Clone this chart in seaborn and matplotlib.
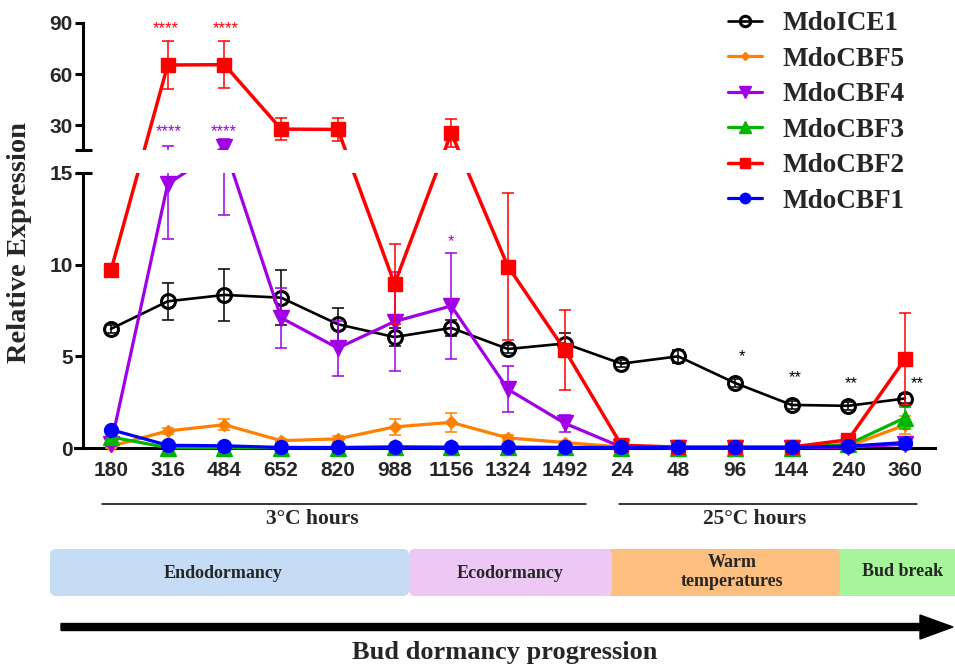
import numpy as np
import pandas as pd
import matplotlib
matplotlib.use('Agg')
import matplotlib.pyplot as plt
import seaborn as sns
from matplotlib.lines import Line2D
from matplotlib.patches import FancyBboxPatch, FancyArrow, Rectangle
from matplotlib.transforms import blended_transform_factory

# ---------------- data ----------------
hours = ['180', '316', '484', '652', '820', '988', '1156', '1324', '1492',
         '24', '48', '96', '144', '240', '360']

ice1 = [6.5, 8.0, 8.35, 8.2, 6.75, 6.05, 6.55, 5.4, 5.7, 4.6, 5.0, 3.55, 2.35, 2.3, 2.7]
ice1_err = [0.2, 1.0, 1.4, 1.5, 0.9, 0.5, 0.45, 0.2, 0.55, 0.2, 0.35, 0.2, 0.2, 0.2, 0.25]

cbf5 = [0.1, 0.93, 1.27, 0.4, 0.5, 1.15, 1.4, 0.55, 0.3, 0.05, 0.03, 0.03, 0.03, 0.1, 1.25]
cbf5_err = [0.1, 0.15, 0.3, 0.1, 0.15, 0.45, 0.5, 0.15, 0.1, 0.02, 0.02, 0.02, 0.02, 0.05, 0.5]

cbf4 = [0.2, 14.4, 17.2, 7.1, 5.45, 6.9, 7.75, 3.2, 1.35, 0.05, 0.02, 0.02, 0.02, 0.05, 0.2]
cbf4_err = [0.1, 3.0, 4.5, 1.65, 1.5, 2.7, 2.9, 1.25, 0.45, 0.02, 0.01, 0.01, 0.01, 0.03, 0.1]

cbf3 = [0.6, 0.02, 0.02, 0.02, 0.02, 0.08, 0.05, 0.05, 0.03, 0.02, 0.02, 0.02, 0.02, 0.2, 1.65]
cbf3_err = [0.15, 0.01, 0.01, 0.01, 0.01, 0.03, 0.02, 0.02, 0.01, 0.01, 0.01, 0.01, 0.01, 0.05, 0.6]

cbf2 = [9.7, 65.3, 65.5, 27.6, 27.4, 8.95, 25.3, 9.9, 5.35, 0.15, 0.05, 0.05, 0.05, 0.45, 4.85]
cbf2_err = [0.2, 14.0, 14.0, 6.7, 7.0, 2.2, 8.5, 4.0, 2.2, 0.05, 0.02, 0.02, 0.02, 0.1, 2.5]

cbf1 = [1.0, 0.15, 0.12, 0.03, 0.03, 0.03, 0.03, 0.03, 0.03, 0.03, 0.03, 0.03, 0.03, 0.1, 0.3]
cbf1_err = [0.1, 0.03, 0.03, 0.01, 0.01, 0.01, 0.01, 0.01, 0.01, 0.01, 0.01, 0.01, 0.01, 0.03, 0.1]

gene_names = ['MdoICE1', 'MdoCBF5', 'MdoCBF4', 'MdoCBF3', 'MdoCBF2', 'MdoCBF1']

# significance marks: (x position index, y value, text, color)
sig_x = [0.97, 2.03, 1.02, 1.99, 6.0, 11.13, 12.06, 13.05, 14.21]
sig_y = [84.0, 84.0, 23.5, 23.5, 11.0, 4.75, 3.6, 3.27, 3.27]
sig_txt = ['****', '****', '****', '****', '*', '*', '**', '**', '**']
sig_col = ['#ff0000', '#ff0000', '#a100e6', '#a100e6', '#a100e6',
           'black', 'black', 'black', 'black']

# ---------------- style ----------------
sns.set_theme(style='white')
plt.rcParams['font.family'] = ['Liberation Serif', 'DejaVu Serif']
SANS = ['Liberation Sans', 'DejaVu Sans']
SERIF = ['Liberation Serif', 'DejaVu Serif']

W, H = 955, 668
fig = plt.figure(figsize=(W / 100, H / 100), dpi=100)
fig.patch.set_facecolor('white')

AX_L, AX_R, AX_T, AX_B = 75, 935, 23, 448
ax = fig.add_axes([AX_L / W, 1 - AX_B / H, (AX_R - AX_L) / W, (AX_B - AX_T) / H])
ax.set_facecolor('none')

# broken (piecewise-linear) y scale
V = np.array([-1000., 0., 15., 15.3, 90., 1000.])
P = np.array([-18333., 0., 275., 298., 425., 425. + 910 * 1.7])


def fwd(v):
    return np.interp(np.asarray(v, dtype=float), V, P)


def inv(p):
    return np.interp(np.asarray(p, dtype=float), P, V)


ax.set_yscale('function', functions=(fwd, inv))

xpos = np.arange(len(hours))
x0 = 111.0
step = (905.0 - 111.0) / 14
ax.set_xlim((AX_L - x0) / step, (AX_R - x0) / step)
ax.set_ylim(0, 90)

series = [
    (ice1, ice1_err, 'black', 'o', 10, 'none', 1.9, 2.2),
    (cbf5, cbf5_err, '#ff8000', 'D', 6, None, 2.3, 1),
    (cbf4, cbf4_err, '#a100e6', 'v', 11, None, 2.3, 1),
    (cbf3, cbf3_err, '#00b400', '^', 11, None, 2.3, 1),
    (cbf2, cbf2_err, '#ff0000', 's', 10.5, None, 2.5, 1),
    (cbf1, cbf1_err, '#0000ff', 'o', 10, None, 2.3, 1),
]

handles = []
for i, (vals, err, col, mk, ms, mfc, lw, mew) in enumerate(series):
    z = 3 + i
    ax.errorbar(xpos, vals, yerr=err, fmt='none', ecolor=col, elinewidth=1.1,
                capsize=4, capthick=1.1, zorder=z, clip_on=False)
    df = pd.DataFrame({'pos': xpos, 'expr': vals})
    sns.lineplot(data=df, x='pos', y='expr', ax=ax, color=col, linewidth=lw,
                 marker=mk, markersize=ms,
                 markerfacecolor=(mfc if mfc else col), markeredgecolor=col,
                 markeredgewidth=mew, estimator=None, errorbar=None,
                 zorder=z + 0.5, clip_on=False, legend=False)
    handles.append(Line2D([], [], color=col, linewidth=lw, marker=mk,
                          markersize=ms * 0.75,
                          markerfacecolor=(mfc if mfc else col),
                          markeredgecolor=col, markeredgewidth=mew))

for sx, sy, st, sc in zip(sig_x, sig_y, sig_txt, sig_col):
    ax.text(sx, sy, st, color=sc, fontsize=12, family=SANS, ha='center',
            va='baseline', zorder=25, clip_on=False)

# axes styling
ax.set_xlabel('')
ax.set_ylabel('')
for s in ('top', 'right'):
    ax.spines[s].set_visible(False)
for s in ('left', 'bottom'):
    ax.spines[s].set_linewidth(2.2)
    ax.spines[s].set_color('black')
ax.spines['left'].set_position(('axes', 8 / (AX_R - AX_L)))

ax.set_xticks(xpos)
ax.set_xticklabels(hours)
ax.set_yticks([0, 5, 10, 15, 30, 60, 90])
ax.set_yticklabels(['0', '5', '10', '15', '30', '60', '90'])
ax.tick_params(axis='y', length=5.5, width=2.2, pad=2, labelsize=15,
               left=True, color='black')
ax.tick_params(axis='x', length=0, pad=9, labelsize=15)
for lbl in ax.get_xticklabels() + ax.get_yticklabels():
    lbl.set_fontfamily(SANS)
    lbl.set_fontweight('bold')
ax.grid(False)

# axis break: hide everything between 15 and 15.3
trans = blended_transform_factory(ax.transAxes, ax.transData)
ax.add_patch(Rectangle((0.0, 15.0), 1.02, 0.3, transform=trans,
                       facecolor='white', edgecolor='none', zorder=20,
                       clip_on=False))
for yv in (15.0, 15.3):
    ax.plot([0, 17 / (AX_R - AX_L)], [yv, yv], transform=trans, color='black',
            lw=2.2, clip_on=False, zorder=21, solid_capstyle='butt')

# y label
fig.text(20 / W, 1 - 243 / H, 'Relative Expression', rotation=90,
         ha='center', va='center', fontsize=20.5, weight='bold', family=SERIF)

# legend
leg = fig.legend(handles, gene_names, loc='upper left',
                 bbox_to_anchor=(728 / W, 1 - 11 / H), frameon=False,
                 prop=dict(family=SERIF, weight='bold', size=19.5),
                 handlelength=1.25, handletextpad=0.75, labelspacing=0.39,
                 borderpad=0, borderaxespad=0)

# ---------------- annotations below the chart ----------------
T = fig.dpi_scale_trans


def pt(px, py):
    return px / 100.0, (H - py) / 100.0


for xa, xb in ((102, 586), (619, 917)):
    fig.add_artist(Line2D([xa / 100, xb / 100], [(H - 504) / 100] * 2,
                          transform=T, color='black', lw=1.1))
fig.text(*pt(312, 519), '3°C hours', transform=T, ha='center', va='center',
         fontsize=15.5, weight='bold', family=SERIF)
fig.text(*pt(755, 519), '25°C hours', transform=T, ha='center', va='center',
         fontsize=15.5, weight='bold', family=SERIF)

boxes = [  # (x0, x1, color)
    (816, 975, '#a6f59b'),
    (606, 840, '#fdbf80'),
    (50, 409, '#c6dcf5'),
    (409, 612, '#edc8f5'),
]
for bx0, bx1, bc in boxes:
    x, y = pt(bx0, 596)
    fig.add_artist(FancyBboxPatch((x, y), (bx1 - bx0) / 100, 0.47,
                                  boxstyle='round,pad=0,rounding_size=0.06',
                                  transform=T, facecolor=bc, edgecolor='none'))

for tx, ty, tt in ((223, 574, 'Endodormancy'), (510, 574, 'Ecodormancy'),
                   (732, 572, 'Warm\ntemperatures'), (903, 572, 'Bud break')):
    fig.text(*pt(tx, ty), tt, transform=T, ha='center', va='center',
             fontsize=13, weight='bold', family=SERIF, linespacing=1.2)

ax_x, ax_y = pt(61, 627)
fig.add_artist(FancyArrow(ax_x, ax_y, (953 - 61) / 100, 0, width=0.07,
                          head_width=0.24, head_length=0.33,
                          length_includes_head=True, transform=T,
                          color='black'))
fig.text(*pt(505, 653), 'Bud dormancy progression', transform=T, ha='center',
         va='center', fontsize=19, weight='bold', family=SERIF)

fig.savefig('out.png', dpi=100, facecolor='white')
